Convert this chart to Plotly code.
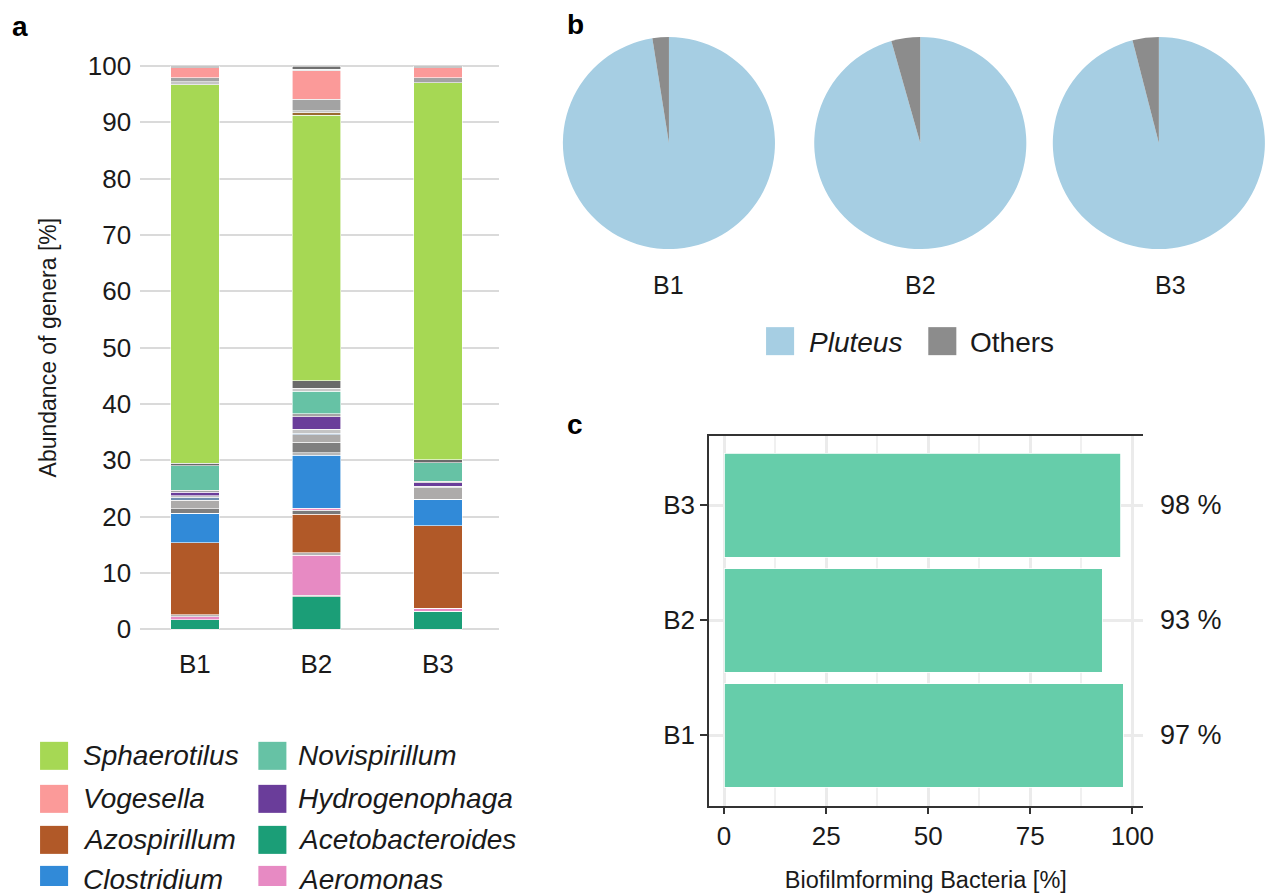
import plotly.graph_objects as go

W, H = 1276, 893
# small correction between figure pixels and the captured picture
SX, SY, DY = 0.99, 0.985, 6.0

# ---------------- data ----------------
samples = ["B1", "B2", "B3"]

# panel a: stacked genus abundances [%] (bottom -> top)
acetobacteroides = [1.7, 5.8, 3.2]
aeromonas = [0.5, 7.1, 0.5]
azospirillum = [12.8, 6.8, 14.7]
clostridium = [5.2, 9.4, 4.7]
hydrogenophaga = [0.6, 2.2, 0.6]
novispirillum = [4.3, 4.0, 3.3]
sphaerotilus = [67.2, 47.2, 66.9]
vogesella = [1.8, 5.1, 1.8]
# minor genera (not in legend)
other_01 = [0.0, 0.2, 0.0]
other_02 = [0.4, 0.5, 0.0]
other_03 = [0.0, 0.7, 0.0]
other_04 = [0.0, 0.4, 0.0]
other_05 = [0.0, 0.4, 0.0]
other_06 = [0.8, 1.9, 0.0]
other_07 = [1.5, 1.3, 2.0]
other_08 = [0.5, 0.3, 0.0]
other_09 = [0.3, 0.7, 0.3]
other_10 = [0.4, 0.6, 0.3]
other_11 = [0.0, 0.5, 0.0]
other_12 = [0.5, 1.3, 0.5]
other_13 = [0.0, 0.4, 0.0]
other_14 = [0.5, 0.4, 0.0]
other_15 = [0.7, 2.0, 0.9]
other_16 = [0.0, 0.2, 0.0]
other_17 = [0.3, 0.6, 0.3]

legend_col1 = ["Sphaerotilus", "Vogesella", "Azospirillum", "Clostridium"]
legend_col2 = ["Novispirillum", "Hydrogenophaga", "Acetobacteroides", "Aeromonas"]

# panel b: pies
pie_labels = ["Pluteus", "Others"]
pluteus_share = [97.5, 95.6, 96.0]
others_share = [2.5, 4.4, 4.0]

# panel c: biofilm forming bacteria
biofilm = [97.8, 92.6, 97.1]
biofilm_labels = ["97 %", "93 %", "98 %"]

# ---------------- styles ----------------
colors = {
    "Sphaerotilus": "#a6d854", "Vogesella": "#fb9a99", "Azospirillum": "#b15928",
    "Clostridium": "#318ad8", "Novispirillum": "#66c2a5", "Hydrogenophaga": "#6a3d9a",
    "Acetobacteroides": "#1b9e77", "Aeromonas": "#e78ac3",
}
stack = [
    ("Acetobacteroides", acetobacteroides, colors["Acetobacteroides"]),
    ("other_01", other_01, "#8a8a8a"),
    ("Aeromonas", aeromonas, colors["Aeromonas"]),
    ("other_02", other_02, "#b5b5b5"),
    ("Azospirillum", azospirillum, colors["Azospirillum"]),
    ("other_03", other_03, "#7a7a7a"),
    ("other_04", other_04, "#f08cc0"),
    ("Clostridium", clostridium, colors["Clostridium"]),
    ("other_05", other_05, "#b8b8b8"),
    ("other_06", other_06, "#7f7f7f"),
    ("other_07", other_07, "#adabaa"),
    ("other_08", other_08, "#6f8fb0"),
    ("other_09", other_09, "#c4c4c4"),
    ("Hydrogenophaga", hydrogenophaga, colors["Hydrogenophaga"]),
    ("other_10", other_10, "#a5a5a5"),
    ("Novispirillum", novispirillum, colors["Novispirillum"]),
    ("other_11", other_11, "#c8c8c8"),
    ("other_12", other_12, "#6a6a6a"),
    ("Sphaerotilus", sphaerotilus, colors["Sphaerotilus"]),
    ("other_13", other_13, "#9a6a30"),
    ("other_14", other_14, "#c6c6c6"),
    ("other_15", other_15, "#a3a3a3"),
    ("Vogesella", vogesella, colors["Vogesella"]),
    ("other_16", other_16, "#d0d0d0"),
    ("other_17", other_17, "#707070"),
]

FONT = "Liberation Sans, Arial, sans-serif"
TXT = "#1a1a1a"

def fx(x):
    return (x / SX) / W

def px(x):
    return min(max(fx(x), 0.0), 1.0)

def py(y):
    return min(max(1 - ((y - DY) / SY) / H, 0.0), 1.0)

fig = go.Figure()

# ---------------- panel a ----------------
for name, vals, col in stack:
    fig.add_trace(go.Bar(
        x=samples, y=vals, name=name, marker=dict(color=col, line=dict(color="white", width=0.6)),
        showlegend=False, xaxis="x", yaxis="y", hoverinfo="skip",
    ))

# ---------------- panel b ----------------
pie_cx = [668, 919, 1169]
R = 106
for i, s in enumerate(samples):
    cx = pie_cx[i]
    x0, x1 = fx(cx - R), fx(cx + R)
    if x1 > 1.0:  # keep full pie size inside the figure
        x0, x1 = x0 - (x1 - 1.0), 1.0
    fig.add_trace(go.Pie(
        values=[pluteus_share[i], others_share[i]], labels=pie_labels,
        marker=dict(colors=["#a6cee3", "#8c8c8c"], line=dict(width=0)),
        sort=False, direction="clockwise", rotation=0, textinfo="none",
        hoverinfo="skip", showlegend=False,
        domain=dict(x=[x0, x1], y=[py(143 + R), py(143 - R)]),
    ))

# ---------------- panel c ----------------
fig.add_trace(go.Bar(
    x=biofilm, y=samples, orientation="h", width=0.9,
    marker=dict(color="#66cdaa", line=dict(color="white", width=0.8)),
    xaxis="x2", yaxis="y2", showlegend=False, hoverinfo="skip",
))

annotations = []
shapes = []

for i, s in enumerate(samples):
    annotations.append(dict(
        x=px(1189), y=s, xref="paper", yref="y2", text=biofilm_labels[i], showarrow=False,
        font=dict(size=27, color=TXT, family=FONT), xanchor="center", yanchor="middle"))
    annotations.append(dict(
        x=px(pie_cx[i]), y=py(285), xref="paper", yref="paper", text=s, showarrow=False,
        font=dict(size=25, color=TXT, family=FONT), xanchor="center", yanchor="middle"))

# pie legend
pie_leg = [(765, "#a6cee3", "<i>Pluteus</i>", 806), (927, "#8c8c8c", "Others", 967)]
for x0, col, txt, tx in pie_leg:
    shapes.append(dict(type="rect", xref="paper", yref="paper",
                       x0=px(x0), x1=px(x0 + 28), y0=py(355), y1=py(327),
                       fillcolor=col, line=dict(width=0)))
    annotations.append(dict(x=px(tx), y=py(342), xref="paper", yref="paper", text=txt,
                            showarrow=False, xanchor="left", yanchor="middle",
                            font=dict(size=28, color=TXT, family=FONT)))

# panel a legend
row_y = [755.5, 798.5, 839.5, 879.5]
for col_names, sx, tx in [(legend_col1, 40, 81), (legend_col2, 258, 296)]:
    for j, nm in enumerate(col_names):
        yc = row_y[j]
        shapes.append(dict(type="rect", xref="paper", yref="paper",
                           x0=px(sx), x1=px(sx + 28), y0=py(yc + 14), y1=py(yc - 14),
                           fillcolor=colors[nm], line=dict(width=0)))
        annotations.append(dict(x=px(tx), y=py(yc), xref="paper", yref="paper",
                                text="<i>" + nm + "</i>", showarrow=False,
                                xanchor="left", yanchor="middle",
                                font=dict(size=28, color=TXT, family=FONT)))

# panel letters
for letter, lx, ly in [("a", 10, 26), ("b", 564, 24), ("c", 564, 424)]:
    annotations.append(dict(x=px(lx), y=py(ly), xref="paper", yref="paper", text="<b>" + letter + "</b>",
                            showarrow=False, xanchor="left", yanchor="middle",
                            font=dict(size=28, color="#000", family=FONT)))

fig.update_layout(
    width=W, height=H,
    margin=dict(l=0, r=0, t=0, b=0),
    paper_bgcolor="white", plot_bgcolor="white",
    barmode="stack", bargap=0.6,
    font=dict(family=FONT, color=TXT),
    xaxis=dict(domain=[px(140), px(498)], range=[-0.45, 2.5], showgrid=False,
               showline=False, ticks="", tickfont=dict(size=26, color=TXT),
               ticklabelstandoff=8, anchor="y"),
    yaxis=dict(domain=[py(637.4), py(57.6)], range=[-1.5, 101.5], tickvals=list(range(0, 101, 10)),
               showgrid=True, gridcolor="#dadada", gridwidth=1.5, zeroline=False,
               showline=False, ticks="", tickfont=dict(size=26, color=TXT), ticklabelstandoff=8,
               title=dict(text="Abundance of genera [%]", font=dict(size=23, color=TXT), standoff=24),
               anchor="x"),
    xaxis2=dict(domain=[px(708), px(1141)], range=[-3.7, 102.5], tickvals=[0, 25, 50, 75, 100],
                showgrid=True, gridcolor="#ebebeb", gridwidth=2.5,
                minor=dict(dtick=12.5, tick0=0, showgrid=True, gridcolor="#f0f0f0", gridwidth=1.5),
                zeroline=False, showline=True, mirror=True, linecolor="#333", linewidth=1.5,
                ticks="outside", ticklen=6, tickcolor="#333", tickwidth=1.5,
                tickfont=dict(size=26, color=TXT), anchor="y2",
                title=dict(text="Biofilmforming Bacteria [%]", font=dict(size=23.5, color=TXT), standoff=24)),
    yaxis2=dict(domain=[py(806), py(436)], range=[-0.617, 2.6], type="category",
                showgrid=True, gridcolor="#ebebeb", gridwidth=2.5, zeroline=False,
                showline=True, mirror=False, linecolor="#333", linewidth=1.5,
                ticks="outside", ticklen=7, tickcolor="#333", tickwidth=1.5,
                tickfont=dict(size=26, color=TXT), anchor="x2"),
    annotations=annotations, shapes=shapes,
)

# pin the figure to the window's top-left corner (no page margin / scrollbars)
page_fix = (
    "document.documentElement.style.margin='0';document.body.style.margin='0';"
    "document.documentElement.style.overflow='hidden';document.body.style.overflow='hidden';"
    "var gd=document.getElementById('{plot_id}');gd.style.position='fixed';"
    "gd.style.left='0px';gd.style.top='0px';"
)

fig.write_html("out.html", post_script=page_fix, config={"displayModeBar": False})
